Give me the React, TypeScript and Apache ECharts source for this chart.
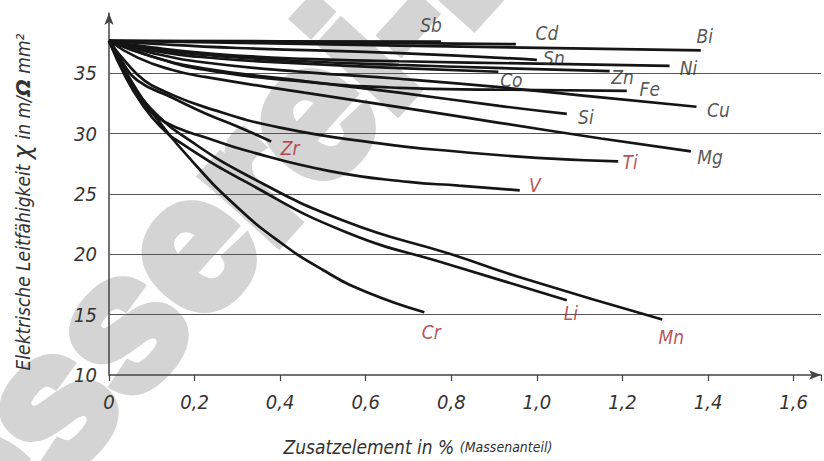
import React, { useEffect, useRef } from "react";
import * as echarts from "echarts";

// ---- data (mass fraction in %, conductivity in m/(Ohm mm^2)) ----
const sb: number[][] = [[0, 37.7], [0.4, 37.66], [0.776, 37.62]];
const cd: number[][] = [[0, 37.7], [0.5, 37.56], [0.951, 37.42]];
const bi: number[][] = [[0, 37.7], [0.35, 37.5], [0.678, 37.3], [1.383, 36.9]];
const sn: number[][] = [[0, 37.7], [0.1, 37.45], [0.3, 37.1], [0.678, 36.68], [1.0, 36.12]];
const ni: number[][] = [[0, 37.7], [0.1, 37.15], [0.25, 36.6], [0.457, 36.2], [0.678, 36.0], [1.0, 35.8], [1.31, 35.62]];
const zn: number[][] = [[0, 37.7], [0.1, 37.0], [0.25, 36.45], [0.457, 36.0], [0.678, 35.7], [0.9, 35.45], [1.17, 35.19]];
const co: number[][] = [[0, 37.7], [0.1, 36.9], [0.25, 36.25], [0.457, 35.8], [0.678, 35.43], [0.91, 35.13]];
const fe: number[][] = [[0, 37.7], [0.1, 36.4], [0.224, 35.3], [0.457, 34.3], [0.678, 33.8], [0.9, 33.65], [1.21, 33.55]];
const cu: number[][] = [[0, 37.7], [0.1, 36.7], [0.224, 35.9], [0.457, 35.1], [0.678, 34.55], [0.912, 33.85], [1.15, 33.0], [1.373, 32.23]];
const si: number[][] = [[0, 37.7], [0.1, 36.4], [0.224, 35.4], [0.457, 34.35], [0.678, 33.4], [0.912, 32.3], [1.07, 31.64]];
const mg: number[][] = [[0, 37.7], [0.067, 36.3], [0.146, 35.3], [0.224, 34.7], [0.457, 33.4], [0.678, 32.2], [0.912, 30.9], [1.15, 29.6], [1.36, 28.53]];
const ti: number[][] = [[0, 37.7], [0.04, 35.9], [0.083, 34.4], [0.13, 33.5], [0.224, 32.2], [0.4, 30.5], [0.632, 29.2], [0.818, 28.5], [1.0, 28.0], [1.19, 27.7]];
const zr: number[][] = [[0, 37.7], [0.03, 36.0], [0.067, 34.4], [0.147, 33.0], [0.224, 31.7], [0.3, 30.6], [0.379, 29.35]];
const v: number[][] = [[0, 37.7], [0.04, 34.8], [0.08, 32.6], [0.107, 31.5], [0.165, 30.4], [0.224, 29.7], [0.32, 28.6], [0.516, 26.9], [0.7, 26.0], [0.818, 25.7], [0.96, 25.3]];
const cr: number[][] = [[0, 37.7], [0.05, 34.5], [0.1, 31.8], [0.2, 27.5], [0.3, 23.9], [0.4, 21.0], [0.5, 18.7], [0.6, 16.9], [0.737, 15.2]];
const li: number[][] = [[0, 37.7], [0.04, 34.6], [0.08, 32.3], [0.12, 30.6], [0.165, 29.3], [0.32, 26.0], [0.55, 21.9], [0.8, 19.1], [1.07, 16.2]];
const mn: number[][] = [[0, 37.7], [0.04, 34.9], [0.08, 32.8], [0.12, 31.3], [0.165, 30.0], [0.32, 26.6], [0.555, 22.7], [0.8, 20.0], [0.96, 18.1], [1.293, 14.6]];

const elementNames = ["Sb", "Cd", "Bi", "Sn", "Ni", "Zn", "Co", "Fe", "Cu", "Si", "Mg", "Ti", "Zr", "V", "Cr", "Li", "Mn"];
const elementData = [sb, cd, bi, sn, ni, zn, co, fe, cu, si, mg, ti, zr, v, cr, li, mn];
const redElements = ["Ti", "Zr", "V", "Cr", "Li", "Mn"];

const yTicks = [10, 15, 20, 25, 30, 35];
const gridValues = [15, 20, 25, 30, 35];

const xAxisTitle = "Zusatzelement in %";
const xAxisSub = "(Massenanteil)";
const watermark = "Giesserei-Lexikon";

// ---- styles ----
const FONT = "'Liberation Sans Narrow', 'DejaVu Sans Condensed', 'Roboto', sans-serif";
const DARK = "#2a2a2a";
const RED = "#a8262c";
const labelOffsets: Record<string, number[]> = {
  Sb: [-10, -17], Cd: [31, -11], Bi: [4, -14], Sn: [17, -2], Ni: [19, 2], Zn: [13, 6],
  Co: [13, 8], Fe: [23, -2], Cu: [22, 3], Si: [19, 3], Mg: [19, 6], Ti: [12, 1],
  Zr: [19, 6], V: [15, -5], Cr: [7, 20], Li: [4, 13], Mn: [9, 18],
};

function buildOption() {
  const lineSeries: any[] = elementNames.map((name, i) => ({
    type: "line",
    name,
    data: elementData[i],
    smooth: 0.5,
    showSymbol: false,
    symbol: "none",
    lineStyle: { color: "#151515", width: 2.7 },
    z: 3,
  }));

  lineSeries[0].markLine = {
    silent: true,
    symbol: ["none", "none"],
    label: { show: false },
    lineStyle: { color: "#555", width: 1, type: "solid" },
    data: gridValues.map((g) => ({ yAxis: g })),
    z: 1,
  };

  const labelSeries = {
    type: "scatter",
    symbolSize: 1,
    itemStyle: { color: "rgba(0,0,0,0)" },
    silent: true,
    z: 4,
    data: elementNames.map((name, i) => {
      const d = elementData[i];
      return {
        name,
        value: d[d.length - 1],
        label: {
          show: true,
          position: "inside",
          offset: labelOffsets[name],
          formatter: "{b}",
          color: redElements.includes(name) ? RED : DARK,
          fontFamily: FONT,
          fontStyle: "italic",
          fontSize: 19,
        },
      };
    }),
  };

  return {
    animation: false,
    backgroundColor: "#fff",
    grid: { left: 109, right: 2, top: 13, bottom: 86, containLabel: false },
    graphic: [
      {
        type: "text",
        x: -121,
        y: 729,
        rotation: (48 * Math.PI) / 180,
        z: -1,
        silent: true,
        style: {
          text: watermark,
          fontFamily: "'Liberation Sans', Arial, sans-serif",
          fontWeight: "bold",
          fontSize: 188,
          fill: "#d4d4d4",
          stroke: "#d4d4d4",
          lineWidth: 12,
          lineJoin: "round",
          align: "left",
          verticalAlign: "bottom",
          textAlign: "left",
          textVerticalAlign: "bottom",
        },
      },
    ],
    xAxis: {
      type: "value",
      min: 0,
      max: 1.664,
      interval: 0.2,
      axisLine: { show: true, symbol: ["none", "arrow"], symbolSize: [7, 12], lineStyle: { color: "#444", width: 1.5 } },
      axisTick: { show: true, length: 6, lineStyle: { color: "#444", width: 1.2 } },
      splitLine: { show: false },
      axisLabel: {
        formatter: (val: number) => (val > 1.61 ? "" : val === 0 ? "0" : val.toFixed(1).replace(".", ",")),
        fontFamily: FONT,
        fontStyle: "italic",
        fontSize: 20,
        color: "#333",
        margin: 17,
      },
      name: `${xAxisTitle} {s|${xAxisSub}}`,
      nameLocation: "middle",
      nameGap: 62,
      nameTextStyle: {
        fontFamily: FONT,
        fontStyle: "italic",
        fontSize: 19,
        color: "#333",
        padding: [0, 94, 0, 0],
        rich: { s: { fontFamily: FONT, fontStyle: "italic", fontSize: 14, color: "#333" } },
      },
    },
    yAxis: {
      type: "value",
      min: 10,
      max: 40,
      interval: 5,
      axisLine: { show: true, symbol: ["none", "arrow"], symbolSize: [7, 12], lineStyle: { color: "#444", width: 1.5 } },
      axisTick: { show: false },
      splitLine: { show: false },
      axisLabel: {
        formatter: (val: number) => (yTicks.includes(val) ? String(val) : ""),
        fontFamily: FONT,
        fontStyle: "italic",
        fontSize: 20,
        color: "#333",
        margin: 12,
      },
      name: "Elektrische Leitfähigkeit {c|χ} in m/{o|Ω} mm²",
      nameLocation: "middle",
      nameGap: 74,
      nameTextStyle: {
        fontFamily: FONT,
        fontStyle: "italic",
        fontSize: 19,
        color: "#333",
        padding: [0, 16, 0, 0],
        rich: {
          c: { fontFamily: "'DejaVu Sans', sans-serif", fontSize: 24, color: "#333" },
          o: { fontFamily: "'DejaVu Sans', sans-serif", fontWeight: "bold", fontSize: 20, color: "#333" },
        },
      },
    },
    series: [...lineSeries, labelSeries],
  };
}

export default function App() {
  const ref = useRef<HTMLDivElement>(null);
  useEffect(() => {
    if (!ref.current) return;
    const chart = echarts.init(ref.current, null, { renderer: "svg" });
    chart.setOption(buildOption() as any);
    return () => chart.dispose();
  }, []);
  return (
    <div
      ref={ref}
      style={{ position: "fixed", left: 0, top: 0, width: 824, height: 461, background: "#fff" }}
    />
  );
}
